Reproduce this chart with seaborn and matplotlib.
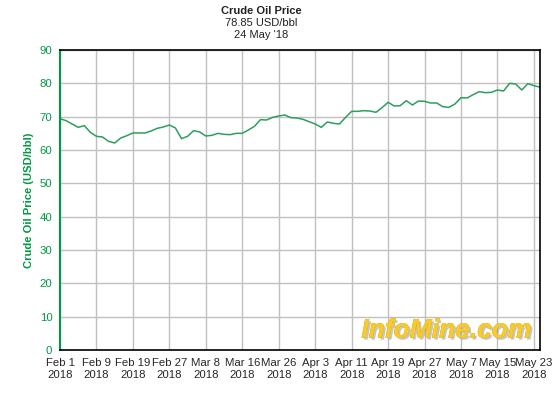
import numpy as np
import pandas as pd
import matplotlib
matplotlib.use("Agg")
import matplotlib.pyplot as plt
import matplotlib.patheffects as pe
import seaborn as sns

# daily closing prices, Feb 1 - May 24 2018 (trading days)
prices = [69.4, 68.8, 67.8, 66.8, 67.3, 65.3, 64.1, 63.9, 62.6, 62.1,
          63.6, 64.3, 65.1, 65.1, 65.1, 65.7, 66.5, 66.9, 67.5, 66.6,
          63.4, 64.1, 65.8, 65.4, 64.2, 64.4, 65.0, 64.7, 64.6, 65.0,
          65.0, 66.0, 67.1, 69.1, 69.0, 69.8, 70.2, 70.5, 69.7, 69.6,
          69.2, 68.5, 67.8, 66.8, 68.4, 68.0, 67.8, 69.8, 71.6, 71.6,
          71.8, 71.7, 71.3, 72.7, 74.3, 73.2, 73.3, 74.8, 73.5, 74.7,
          74.6, 74.1, 74.1, 73.0, 72.8, 73.8, 75.7, 75.6, 76.6, 77.5,
          77.2, 77.3, 78.0, 77.7, 80.0, 79.8, 78.0, 79.9, 79.3, 78.85]
tick_labels = ["Feb 1", "Feb 9", "Feb 19", "Feb 27", "Mar 8", "Mar 16", "Mar 26",
               "Apr 3", "Apr 11", "Apr 19", "Apr 27", "May 7", "May 15", "May 23"]
y_ticks = [0, 10, 20, 30, 40, 50, 60, 70, 80, 90]

df = pd.DataFrame({"day": np.arange(len(prices)), "price": prices})

sns.set_style("white")
plt.rcParams['font.family'] = ['Liberation Sans', 'DejaVu Sans']

green = "#009944"
fig = plt.figure(figsize=(5.6, 4.0), dpi=100)
ax = fig.add_axes([60 / 560, 50 / 400, 480 / 560, 300 / 400])

sns.lineplot(data=df, x="day", y="price", color="#2e9e5e", linewidth=1.1, ax=ax)

ax.set_xlim(0, len(prices) - 1)
ax.set_ylim(0, 90)
tick_pos = np.arange(len(tick_labels)) * 6
ax.set_xticks(tick_pos)
ax.set_xticklabels([f"{t}\n2018" for t in tick_labels], fontsize=8.2)
ax.set_yticks(y_ticks)
ax.set_yticklabels([str(v) for v in y_ticks], fontsize=8.2, color=green)
ax.grid(True, color="#c0c0c0", linewidth=1)
ax.set_axisbelow(True)

ax.tick_params(axis="x", direction="out", length=4, width=1, color="black", pad=2)
ax.tick_params(axis="y", direction="out", length=4, width=1, color=green, pad=1.5)
for s in ["top", "right", "bottom"]:
    ax.spines[s].set_color("black")
    ax.spines[s].set_linewidth(1.2)
ax.spines["left"].set_color(green)
ax.spines["left"].set_linewidth(1.5)

ax.set_xlabel("")
ax.set_ylabel("Crude Oil Price (USD/bbl)", color=green, fontsize=8.1,
              fontweight="bold", labelpad=4)

cx = 261 / 560
fig.text(cx, 0.985, "Crude Oil Price", ha="center", va="top",
         fontsize=8, fontweight="bold", color="#222222")
fig.text(cx, 0.955, "78.85 USD/bbl", ha="center", va="top", fontsize=8,
         color="#222222")
fig.text(cx, 0.925, "24 May '18", ha="center", va="top", fontsize=8,
         color="#222222")

ax.text(0.805, 0.065, "InfoMine.com", transform=ax.transAxes, ha="center",
        va="center", fontsize=19, fontweight="bold", style="italic",
        color="#f7cb2e",
        path_effects=[pe.withSimplePatchShadow(offset=(1.5, -1.5),
                                               shadow_rgbFace="#a0a0a0", alpha=0.6),
                      pe.withStroke(linewidth=0.4, foreground="#e0a800")])

fig.savefig("out.png", dpi=100)
